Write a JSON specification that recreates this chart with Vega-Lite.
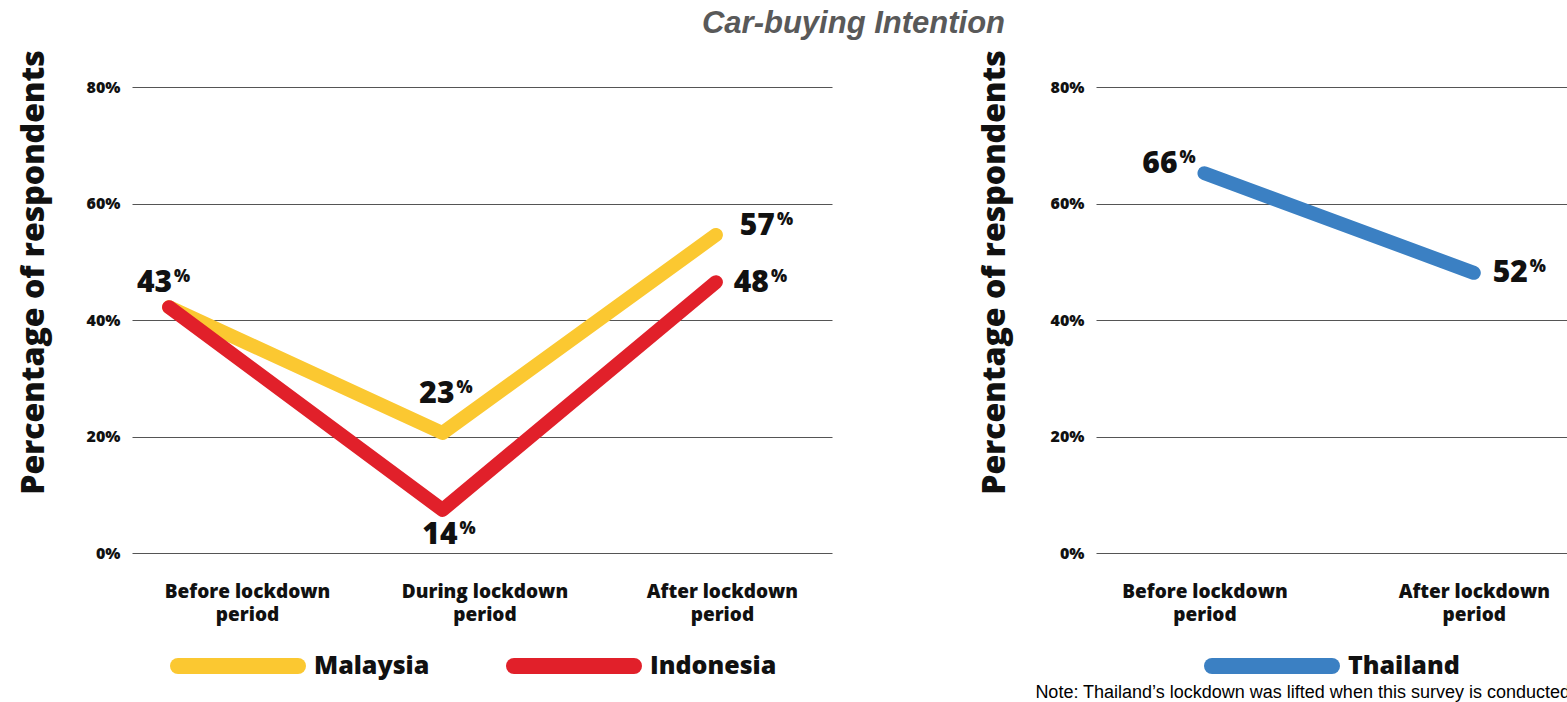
{
  "$schema": "https://vega.github.io/schema/vega-lite/v6.json",
  "padding": {"left": 16, "top": 7, "right": 0, "bottom": 0},
  "background": "white",
  "title": {"text": "Car-buying Intention", "font": "Liberation Sans", "fontSize": 31, "fontStyle": "italic", "fontWeight": "bold", "color": "#595959", "anchor": "middle", "dx": 60, "offset": 10},
  "config": {
    "view": {"stroke": null},
    "text": {"font": "Open Sans", "fontWeight": 800, "color": "#111111"},
    "axis": {"domain": false, "ticks": false, "gridColor": "#555555", "gridWidth": 1, "labelFont": "Open Sans", "labelFontWeight": 800, "labelColor": "#111111", "titleFont": "Open Sans", "titleFontWeight": 800, "titleColor": "#111111"},
    "legend": {"labelFont": "Open Sans", "labelFontWeight": 800, "labelColor": "#111111"}
  },
  "spacing": 145,
  "align": "none",
  "resolve": {"scale": {"x": "independent", "y": "independent", "color": "independent"}, "legend": {"color": "independent"}, "axis": {"x": "independent", "y": "independent"}},
  "hconcat": [
    {
      "width": 700,
      "height": 466,
      "data": {"values": [
        {"country": "Malaysia", "period": "Before lockdown period", "value": 42.2, "label": "43"},
        {"country": "Malaysia", "period": "During lockdown period", "value": 20.6, "label": "23"},
        {"country": "Malaysia", "period": "After lockdown period", "value": 54.6, "label": "57"},
        {"country": "Indonesia", "period": "Before lockdown period", "value": 42.2, "label": "43"},
        {"country": "Indonesia", "period": "During lockdown period", "value": 7.4, "label": "14"},
        {"country": "Indonesia", "period": "After lockdown period", "value": 46.5, "label": "48"}
      ]},
      "layer": [
        {
          "layer": [
            {
              "mark": {"type": "line", "strokeWidth": 14, "strokeCap": "round", "strokeJoin": "round"},
              "encoding": {
                "x": {"field": "period", "type": "ordinal", "scale": {"type": "point", "domain": ["Before lockdown period", "During lockdown period", "After lockdown period"], "padding": 0.28, "align": 0.242}, "axis": null},
                "y": {"field": "value", "type": "quantitative", "scale": {"domain": [0, 80], "nice": false},
                  "axis": {"values": [0, 20, 40, 60, 80], "labelExpr": "datum.value + '%'", "grid": true, "labelFontSize": 16, "labelPadding": 12, "title": "Percentage of respondents", "titleFontSize": 32, "titleX": -99, "titleY": 185, "titleAngle": -90, "titleAlign": "center", "titleBaseline": "middle"}},
                "color": {"field": "country", "type": "nominal", "scale": {"domain": ["Malaysia", "Indonesia"], "range": ["#FBC831", "#E1202A"]},
                  "legend": {"orient": "none", "legendX": 32, "legendY": 565, "direction": "horizontal", "title": null, "symbolType": "M0,0H20", "symbolStrokeWidth": 16, "symbolSize": 144, "labelFontSize": 25, "labelOffset": 122, "columnPadding": 52, "padding": 0, "encode": {"symbols": {"update": {"strokeCap": {"value": "round"}}}}}}
              }
            },
            {"transform": [{"filter": "datum.country==='Malaysia' && datum.period==='Before lockdown period'"}],
             "mark": {"type": "text", "align": "right", "baseline": "alphabetic", "dx": 3, "dy": -15, "fontSize": 30},
             "encoding": {"x": {"field": "period", "type": "ordinal"}, "y": {"field": "value", "type": "quantitative"}, "text": {"field": "label"}}},
            {"transform": [{"filter": "datum.country==='Malaysia' && datum.period==='Before lockdown period'"}],
             "mark": {"type": "text", "align": "left", "baseline": "alphabetic", "dx": 5, "dy": -25, "fontSize": 17, "text": "%"},
             "encoding": {"x": {"field": "period", "type": "ordinal"}, "y": {"field": "value", "type": "quantitative"}}},
            {"transform": [{"filter": "datum.country==='Malaysia' && datum.period==='During lockdown period'"}],
             "mark": {"type": "text", "align": "right", "baseline": "alphabetic", "dx": 12, "dy": -30, "fontSize": 30},
             "encoding": {"x": {"field": "period", "type": "ordinal"}, "y": {"field": "value", "type": "quantitative"}, "text": {"field": "label"}}},
            {"transform": [{"filter": "datum.country==='Malaysia' && datum.period==='During lockdown period'"}],
             "mark": {"type": "text", "align": "left", "baseline": "alphabetic", "dx": 14, "dy": -40, "fontSize": 17, "text": "%"},
             "encoding": {"x": {"field": "period", "type": "ordinal"}, "y": {"field": "value", "type": "quantitative"}}},
            {"transform": [{"filter": "datum.country==='Indonesia' && datum.period==='During lockdown period'"}],
             "mark": {"type": "text", "align": "right", "baseline": "alphabetic", "dx": 15, "dy": 34, "fontSize": 30},
             "encoding": {"x": {"field": "period", "type": "ordinal"}, "y": {"field": "value", "type": "quantitative"}, "text": {"field": "label"}}},
            {"transform": [{"filter": "datum.country==='Indonesia' && datum.period==='During lockdown period'"}],
             "mark": {"type": "text", "align": "left", "baseline": "alphabetic", "dx": 17, "dy": 24, "fontSize": 17, "text": "%"},
             "encoding": {"x": {"field": "period", "type": "ordinal"}, "y": {"field": "value", "type": "quantitative"}}},
            {"transform": [{"filter": "datum.country==='Malaysia' && datum.period==='After lockdown period'"}],
             "mark": {"type": "text", "align": "right", "baseline": "alphabetic", "dx": 59, "dy": 0, "fontSize": 30},
             "encoding": {"x": {"field": "period", "type": "ordinal"}, "y": {"field": "value", "type": "quantitative"}, "text": {"field": "label"}}},
            {"transform": [{"filter": "datum.country==='Malaysia' && datum.period==='After lockdown period'"}],
             "mark": {"type": "text", "align": "left", "baseline": "alphabetic", "dx": 61, "dy": -10, "fontSize": 17, "text": "%"},
             "encoding": {"x": {"field": "period", "type": "ordinal"}, "y": {"field": "value", "type": "quantitative"}}},
            {"transform": [{"filter": "datum.country==='Indonesia' && datum.period==='After lockdown period'"}],
             "mark": {"type": "text", "align": "right", "baseline": "alphabetic", "dx": 53, "dy": 10, "fontSize": 30},
             "encoding": {"x": {"field": "period", "type": "ordinal"}, "y": {"field": "value", "type": "quantitative"}, "text": {"field": "label"}}},
            {"transform": [{"filter": "datum.country==='Indonesia' && datum.period==='After lockdown period'"}],
             "mark": {"type": "text", "align": "left", "baseline": "alphabetic", "dx": 55, "dy": 0, "fontSize": 17, "text": "%"},
             "encoding": {"x": {"field": "period", "type": "ordinal"}, "y": {"field": "value", "type": "quantitative"}}}
          ]
        },
        {
          "mark": {"type": "point", "opacity": 0},
          "encoding": {
            "x": {"field": "period", "type": "ordinal", "scale": {"type": "point", "domain": ["Before lockdown period", "During lockdown period", "After lockdown period"], "padding": 0.474, "align": 0.511},
              "axis": {"orient": "bottom", "title": null, "labelExpr": "[replace(datum.label, ' period', ''), 'period']", "labelFontSize": 19, "labelPadding": 29, "labelLineHeight": 23, "labelBaseline": "top", "labelAngle": 0}}
          }
        }
      ],
      "resolve": {"scale": {"x": "independent"}, "axis": {"x": "independent"}}
    },
    {
      "width": 474,
      "height": 466,
      "title": {"text": "Note: Thailand’s lockdown was lifted when this survey is conducted", "orient": "bottom", "anchor": "end", "frame": "group", "font": "Liberation Sans", "fontSize": 18, "fontWeight": "normal", "fontStyle": "normal", "color": "#000000", "offset": -14},
      "data": {"values": [
        {"country": "Thailand", "period": "Before lockdown period", "value": 65.2, "label": "66"},
        {"country": "Thailand", "period": "After lockdown period", "value": 48.1, "label": "52"}
      ]},
      "layer": [
        {
          "mark": {"type": "line", "strokeWidth": 14, "strokeCap": "round", "strokeJoin": "round"},
          "encoding": {
            "x": {"field": "period", "type": "ordinal", "scale": {"type": "point", "domain": ["Before lockdown period", "After lockdown period"], "padding": 0.38, "align": 0.53},
              "axis": {"title": null, "labelExpr": "[replace(datum.label, ' period', ''), 'period']", "labelFontSize": 19, "labelPadding": 29, "labelLineHeight": 23, "labelBaseline": "top", "labelAngle": 0}},
            "y": {"field": "value", "type": "quantitative", "scale": {"domain": [0, 80], "nice": false},
              "axis": {"values": [0, 20, 40, 60, 80], "labelExpr": "datum.value + '%'", "grid": true, "labelFontSize": 16, "labelPadding": 12, "title": "Percentage of respondents", "titleFontSize": 32, "titleX": -102, "titleY": 185, "titleAngle": -90, "titleAlign": "center", "titleBaseline": "middle"}},
            "color": {"field": "country", "type": "nominal", "scale": {"domain": ["Thailand"], "range": ["#3B80C3"]},
              "legend": {"orient": "none", "legendX": 102, "legendY": 565, "direction": "horizontal", "title": null, "symbolType": "M0,0H20", "symbolStrokeWidth": 16, "symbolSize": 144, "labelFontSize": 25, "labelOffset": 122, "padding": 0, "encode": {"symbols": {"update": {"strokeCap": {"value": "round"}}}}}}
          }
        },
        {"transform": [{"filter": "datum.period==='Before lockdown period'"}],
         "mark": {"type": "text", "align": "right", "baseline": "alphabetic", "dx": -27, "dy": 0, "fontSize": 30},
         "encoding": {"x": {"field": "period", "type": "ordinal"}, "y": {"field": "value", "type": "quantitative"}, "text": {"field": "label"}}},
        {"transform": [{"filter": "datum.period==='Before lockdown period'"}],
         "mark": {"type": "text", "align": "left", "baseline": "alphabetic", "dx": -25, "dy": -10, "fontSize": 17, "text": "%"},
         "encoding": {"x": {"field": "period", "type": "ordinal"}, "y": {"field": "value", "type": "quantitative"}}},
        {"transform": [{"filter": "datum.period==='After lockdown period'"}],
         "mark": {"type": "text", "align": "right", "baseline": "alphabetic", "dx": 54, "dy": 9, "fontSize": 30},
         "encoding": {"x": {"field": "period", "type": "ordinal"}, "y": {"field": "value", "type": "quantitative"}, "text": {"field": "label"}}},
        {"transform": [{"filter": "datum.period==='After lockdown period'"}],
         "mark": {"type": "text", "align": "left", "baseline": "alphabetic", "dx": 56, "dy": -1, "fontSize": 17, "text": "%"},
         "encoding": {"x": {"field": "period", "type": "ordinal"}, "y": {"field": "value", "type": "quantitative"}}}
      ]
    }
  ]
}
